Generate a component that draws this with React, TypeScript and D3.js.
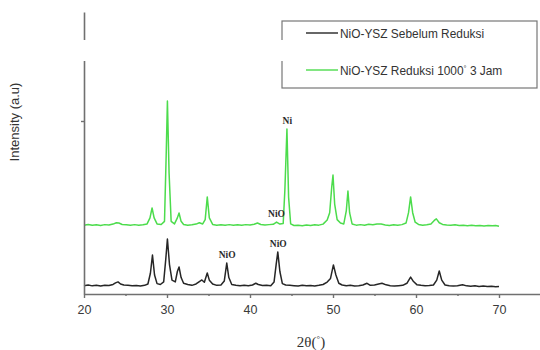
import * as d3 from 'd3';
import { useEffect, useRef } from 'react';

// [2θ, intensity]
const beforeReduction: [number, number][] = [
  [20.0, 48], [20.5, 52], [21.0, 47], [21.5, 50], [22.0, 46], [22.5, 51], [23.0, 49], [23.5, 55],
  [23.8, 64], [24.1, 70], [24.4, 58], [24.8, 52], [25.3, 50], [25.8, 47], [26.3, 49], [26.8, 46],
  [27.3, 50], [27.7, 58], [28.0, 120], [28.25, 225], [28.5, 110], [28.8, 60], [29.2, 55], [29.6, 70],
  [29.85, 200], [30.05, 318], [30.3, 170], [30.6, 80], [31.0, 70], [31.25, 130], [31.45, 156], [31.7, 95],
  [32.0, 62], [32.5, 55], [33.0, 50], [33.5, 58], [33.9, 72], [34.2, 81], [34.5, 68], [34.85, 121],
  [35.1, 80], [35.5, 58], [36.0, 50], [36.5, 52], [36.9, 75], [37.2, 179], [37.45, 95], [37.8, 55],
  [38.3, 50], [38.8, 47], [39.3, 50], [39.8, 48], [40.3, 52], [40.7, 62], [41.0, 55], [41.5, 49],
  [42.0, 50], [42.5, 48], [42.9, 70], [43.15, 170], [43.35, 243], [43.6, 130], [43.9, 60], [44.3, 52],
  [44.8, 50], [45.3, 48], [45.8, 46], [46.3, 50], [46.8, 47], [47.3, 49], [47.8, 46], [48.3, 50],
  [48.8, 55], [49.3, 69], [49.7, 90], [50.05, 168], [50.35, 110], [50.7, 62], [51.1, 52], [51.6, 48],
  [52.1, 50], [52.6, 46], [53.1, 48], [53.6, 52], [54.1, 62], [54.5, 50], [55.0, 52], [55.5, 58],
  [55.9, 62], [56.4, 53], [56.9, 48], [57.4, 46], [57.9, 48], [58.4, 50], [58.9, 62], [59.35, 98],
  [59.7, 72], [60.1, 54], [60.6, 50], [61.1, 47], [61.6, 49], [62.1, 52], [62.5, 80], [62.8, 133],
  [63.1, 80], [63.5, 52], [64.0, 48], [64.5, 46], [65.0, 48], [65.6, 54], [66.1, 47], [66.6, 45],
  [67.1, 47], [67.6, 44], [68.1, 46], [68.6, 43], [69.1, 45], [69.6, 42], [70.0, 44],
];

const afterReduction: [number, number][] = [
  [20.0, 398], [20.5, 402], [21.0, 397], [21.5, 400], [22.0, 396], [22.5, 401], [23.0, 399], [23.5, 404],
  [23.9, 412], [24.2, 410], [24.6, 402], [25.1, 400], [25.6, 397], [26.1, 401], [26.6, 398], [27.1, 400],
  [27.6, 405], [27.95, 440], [28.2, 497], [28.45, 440], [28.8, 405], [29.3, 402], [29.7, 420], [29.9, 800],
  [30.05, 1116], [30.25, 700], [30.5, 420], [30.9, 405], [31.25, 440], [31.45, 468], [31.7, 420], [32.0, 402],
  [32.5, 398], [33.0, 400], [33.5, 404], [33.9, 412], [34.3, 405], [34.6, 430], [34.85, 561], [35.1, 440],
  [35.5, 402], [36.0, 398], [36.5, 400], [37.0, 397], [37.5, 401], [38.0, 398], [38.5, 400], [39.0, 397],
  [39.5, 401], [40.0, 399], [40.5, 403], [40.9, 410], [41.3, 402], [41.8, 399], [42.3, 401], [42.8, 403],
  [43.2, 416], [43.6, 404], [44.0, 408], [44.2, 600], [44.45, 954], [44.65, 560], [44.9, 405], [45.3, 396],
  [45.8, 398], [46.3, 395], [46.8, 399], [47.3, 396], [47.8, 400], [48.3, 398], [48.8, 404], [49.3, 428],
  [49.6, 470], [49.85, 620], [50.0, 688], [50.2, 520], [50.5, 430], [50.9, 410], [51.3, 405], [51.6, 480],
  [51.8, 595], [52.0, 470], [52.3, 405], [52.8, 398], [53.3, 401], [53.8, 397], [54.3, 403], [54.8, 400],
  [55.3, 405], [55.8, 404], [56.3, 399], [56.8, 396], [57.3, 400], [57.8, 398], [58.3, 401], [58.8, 410],
  [59.1, 470], [59.35, 561], [59.6, 470], [59.9, 415], [60.3, 402], [60.8, 398], [61.3, 400], [61.8, 405],
  [62.2, 425], [62.45, 434], [62.8, 412], [63.2, 402], [63.7, 399], [64.2, 397], [64.7, 400], [65.2, 396],
  [65.7, 398], [66.2, 395], [66.7, 397], [67.2, 394], [67.7, 396], [68.2, 393], [68.7, 396], [69.2, 394],
  [69.6, 396], [70.0, 392],
];

const seriesNames = ['NiO-YSZ Sebelum Reduksi', 'NiO-YSZ Reduksi 1000° 3 Jam'];
const seriesColors = ['#262626', '#4cdc4c'];

// peak labels: [2θ, intensity of peak top, text]
const peakLabels: [number, number, string][] = [
  [37.25, 179, 'NiO'],
  [43.4, 243, 'NiO'],
  [43.2, 416, 'NiO'],
  [44.5, 954, 'Ni'],
];

const xMajorTicks = [20, 30, 40, 50, 60, 70];
const xMinorTicks = [25, 35, 45, 55, 65, 75];
const yTicks = [1000];

const WIDTH = 540;
const HEIGHT = 350;

// renders a "°" as a small raised glyph, like the original figure
function withDegree(text: string) {
  const parts = text.split('°');
  if (parts.length === 1) return text;
  return (
    <>
      {parts[0]}
      <tspan dy={-4} fontSize={7.5}>°</tspan>
      <tspan dy={4}>{parts[1]}</tspan>
    </>
  );
}

export default function App() {
  const xAxisRef = useRef<SVGGElement>(null);
  const xMinorRef = useRef<SVGGElement>(null);
  const yAxisRef = useRef<SVGGElement>(null);

  const x = d3.scaleLinear().domain([20, 75]).range([84, 540.5]);
  const y = d3.scaleLinear().domain([0, 1630]).range([294, 12]);

  const line = d3.line<[number, number]>()
    .x((d) => x(d[0]))
    .y((d) => y(d[1]));

  useEffect(() => {
    const styleAxis = (g: d3.Selection<SVGGElement, unknown, null, undefined>) => {
      g.select('.domain').attr('stroke', '#707070').attr('stroke-width', 1.6);
      g.selectAll('.tick line').attr('stroke', '#707070').attr('stroke-width', 1.4);
      g.selectAll('.tick text')
        .attr('fill', '#3a3a3a')
        .style('font-family', 'Liberation Sans, Arial, sans-serif')
        .style('font-size', '12.5px');
    };

    d3.select(xAxisRef.current!)
      .call(d3.axisBottom(x).tickValues(xMajorTicks).tickSize(4).tickSizeOuter(0).tickPadding(7))
      .call(styleAxis);

    d3.select(xMinorRef.current!)
      .call(d3.axisBottom(x).tickValues(xMinorTicks).tickSize(2).tickSizeOuter(0).tickFormat(() => ''))
      .call((g) => g.select('.domain').remove())
      .call(styleAxis);

    d3.select(yAxisRef.current!)
      .call(d3.axisLeft(y).tickValues(yTicks).tickSize(3).tickSizeOuter(0).tickFormat(() => ''))
      .call(styleAxis);
  }, []);

  return (
    <svg
      width={WIDTH}
      height={HEIGHT}
      style={{ position: 'absolute', left: 0, top: 0, background: '#fff' }}
    >
      {[beforeReduction, afterReduction].map((data, i) => (
        <path
          key={seriesNames[i]}
          d={line(data) || ''}
          fill="none"
          stroke={seriesColors[i]}
          strokeWidth={1.5}
          strokeLinejoin="round"
        />
      ))}

      {peakLabels.map(([tt, inten, label], i) => (
        <text
          key={i}
          x={x(tt)}
          y={y(inten) - 5}
          textAnchor="middle"
          fontFamily="Liberation Serif, Times New Roman, serif"
          fontWeight="bold"
          fontSize={9.5}
          fill="#2a2a2a"
        >
          {label}
        </text>
      ))}

      <g ref={xAxisRef} transform={`translate(0,${y(0)})`} />
      <g ref={xMinorRef} transform={`translate(0,${y(0)})`} />
      <g ref={yAxisRef} transform={`translate(${x(20)},0)`} />

      {/* legend */}
      <rect x={282} y={21} width={255} height={67} fill="#fff" stroke="#777" strokeWidth={1.2} />
      {seriesNames.map((name, i) => (
        <g key={name} transform={`translate(306,${33 + i * 37})`}>
          <line x1={0} x2={32} y1={0} y2={0} stroke={seriesColors[i]} strokeWidth={1.4} />
          <text
            x={34}
            y={4.5}
            fontFamily="Liberation Sans, Arial, sans-serif"
            fontSize={11.9}
            fill="#333"
          >
            {withDegree(name)}
          </text>
        </g>
      ))}

      {/* blank band that cuts the y axis and the legend frame in the original */}
      <rect x={60} y={40} width={228} height={21} fill="#fff" />

      <text
        transform="translate(19,122) rotate(-90)"
        textAnchor="middle"
        fontFamily="Liberation Sans, Arial, sans-serif"
        fontSize={13}
        fill="#333"
      >
        Intensity (a.u)
      </text>

      <text
        x={311}
        y={347}
        textAnchor="middle"
        fontFamily="Liberation Serif, Times New Roman, serif"
        fontSize={15}
        fill="#333"
      >
        2θ(<tspan dy={-5} fontSize={9}>°</tspan><tspan dy={5}>)</tspan>
      </text>
    </svg>
  );
}
